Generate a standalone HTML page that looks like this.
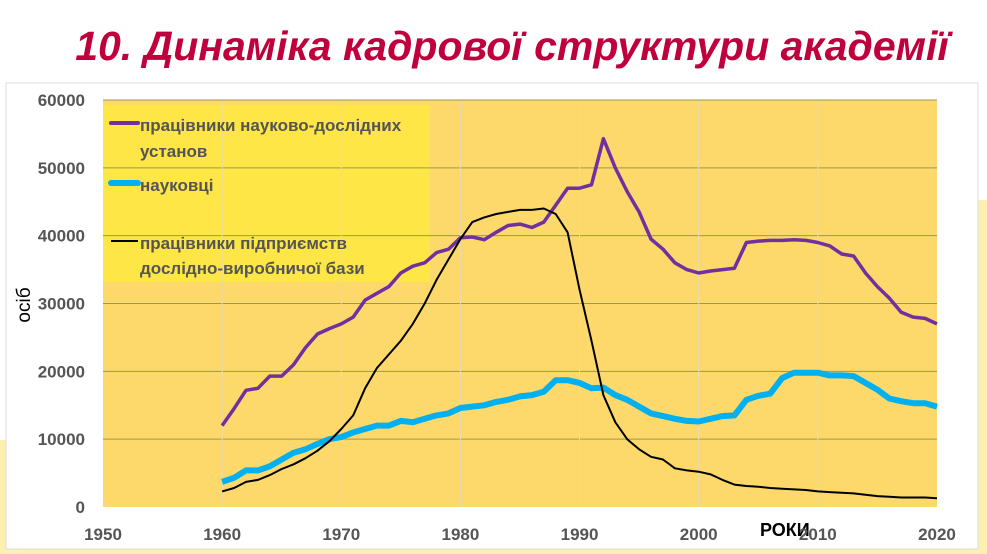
<!DOCTYPE html>
<html><head><meta charset="utf-8"><style>
body{margin:0;width:987px;height:554px;overflow:hidden;background:#fff;font-family:"Liberation Sans",sans-serif}
</style></head><body>
<svg id="s" width="987" height="554" xmlns="http://www.w3.org/2000/svg" style="position:absolute;left:0;top:0">
<rect x="0" y="0" width="987" height="554" fill="#fff"/>
<rect x="960" y="200" width="27" height="354" fill="#fdf0b0"/>
<rect x="0" y="440" width="987" height="114" fill="#fdf0b0"/>
<rect x="6" y="83" width="972" height="466" fill="#fff" stroke="#ddd"/>
<text x="512" y="60" text-anchor="middle" font-size="41" font-style="italic" font-weight="bold" fill="#c0003c">10. Динаміка кадрової структури академії</text>
<rect x="103" y="100" width="834" height="407" fill="#fdd86a"/>
<rect x="103" y="105" width="327" height="177" fill="#fde645"/>
<g id="grid"></g>
<g id="lines"></g>
<g font-size="17" font-weight="bold" fill="#555">
<text x="140" y="131">працівники науково-дослідних</text>
<text x="140" y="157">установ</text>
<text x="140" y="191">науковці</text>
<text x="140" y="249">працівники підприємств</text>
<text x="140" y="274">дослідно-виробничої бази</text>
</g>
<line x1="111" y1="123" x2="138" y2="123" stroke="#7030a0" stroke-width="4" stroke-linecap="round"/>
<line x1="111" y1="183" x2="138" y2="183" stroke="#00b0f0" stroke-width="6" stroke-linecap="round"/>
<line x1="111" y1="241" x2="138" y2="241" stroke="#000" stroke-width="2"/>
<text x="760" y="536" font-size="18" font-weight="bold" fill="#000">РОКИ</text>
<text transform="translate(30,305) rotate(-90)" text-anchor="middle" font-size="19" fill="#000">осіб</text>
<g id="ax" font-size="17" font-weight="bold" fill="#555"></g>
</svg>
<script>
var ns="http://www.w3.org/2000/svg";
function X(y){return 103+(y-1950)*11.914}
function Y(v){return 507-v*0.006783}
function el(p,t,a,txt){var e=document.createElementNS(ns,t);for(var k in a)e.setAttribute(k,a[k]);if(txt)e.textContent=txt;document.getElementById(p).appendChild(e);}
for(var v=0;v<=60000;v+=10000){if(v>0&&v<60000)el("grid","line",{x1:103,x2:937,y1:Y(v),y2:Y(v),stroke:"#9a9a50","stroke-width":1});
el("ax","text",{x:85,y:Y(v)+6,"text-anchor":"end"},String(v));}
for(var y=1950;y<=2020;y+=10){if(y>1950&&y<2020)el("grid","line",{x1:X(y),x2:X(y),y1:100,y2:507,stroke:"#e8dcb0","stroke-width":1});
el("ax","text",{x:X(y),y:540,"text-anchor":"middle"},String(y));}
el("grid","line",{x1:103,x2:937,y1:100,y2:100,stroke:"#9a9a50"});
var P=[12000,14500,17200,17500,19300,19300,21000,23500,25500,26300,27000,28000,30500,31500,32500,34500,35500,36000,37500,38000,39700,39800,39400,40500,41500,41700,41200,42000,44500,47000,47000,47500,54300,50000,46500,43500,39500,38000,36000,35000,34500,34800,35000,35200,39000,39200,39300,39300,39400,39300,39000,38500,37300,37000,34500,32500,30800,28700,28000,27800,27000];
var B=[3700,4300,5400,5400,6000,7000,8000,8500,9300,10000,10300,11000,11500,12000,12000,12700,12500,13000,13500,13800,14600,14800,15000,15500,15800,16300,16500,17000,18700,18700,18300,17500,17600,16500,15800,14800,13800,13400,13000,12700,12600,13000,13400,13500,15800,16400,16700,19000,19800,19800,19800,19400,19400,19300,18300,17300,16000,15600,15300,15300,14800];
var K=[2300,2800,3700,4000,4700,5600,6300,7200,8300,9700,11500,13500,17500,20500,22500,24500,27000,30000,33500,36500,39500,42000,42700,43200,43500,43800,43800,44000,43200,40500,32000,24500,16500,12500,10000,8500,7400,7000,5700,5400,5200,4800,4000,3300,3100,3000,2800,2700,2600,2500,2300,2200,2100,2000,1800,1600,1500,1400,1400,1400,1300];
function pts(a){return a.map(function(v,i){return X(1960+i).toFixed(1)+","+Y(v).toFixed(1)}).join(" ")}
el("lines","polyline",{points:pts(B),fill:"none",stroke:"#00b0f0","stroke-width":6,"stroke-linejoin":"round"});
el("lines","polyline",{points:pts(P),fill:"none",stroke:"#7030a0","stroke-width":3.5,"stroke-linejoin":"round"});
el("lines","polyline",{points:pts(K),fill:"none",stroke:"#000","stroke-width":2,"stroke-linejoin":"round"});
</script>
</body></html>
